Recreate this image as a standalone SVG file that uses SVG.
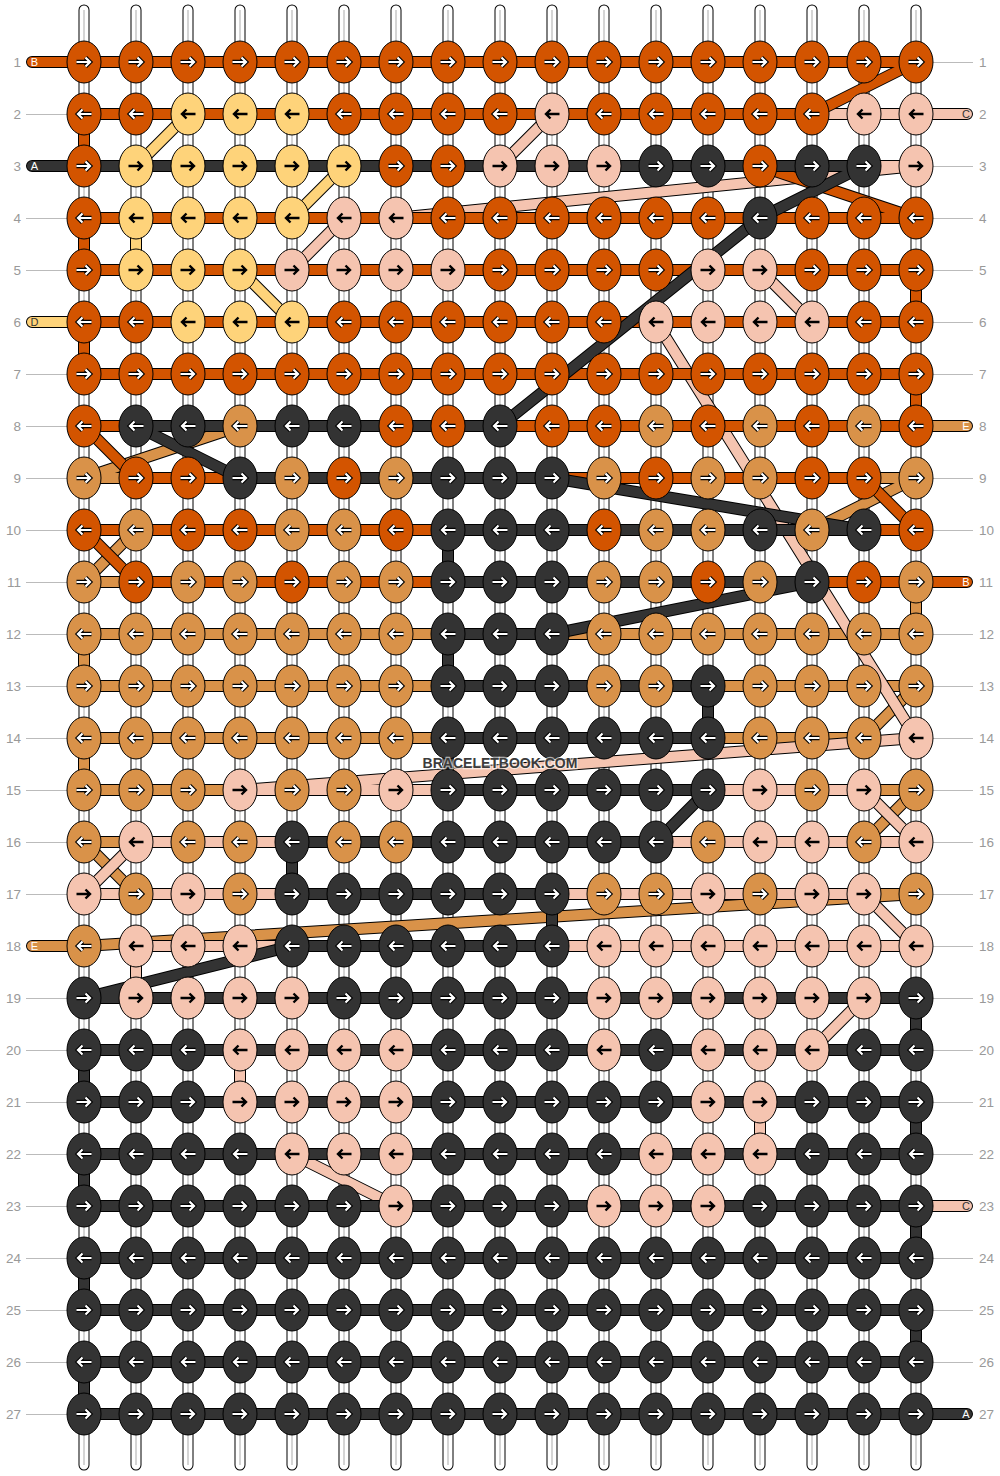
<svg xmlns="http://www.w3.org/2000/svg" width="1000" height="1476" viewBox="0 0 1000 1476">
<style>
.o{fill:#d35400}.k{fill:#333333}.p{fill:#f5c4b0}.y{fill:#fed37a}.t{fill:#d99249}
.sb{fill:none;stroke:#000;stroke-width:11;stroke-linecap:round}
.sw{fill:none;stroke:#fff;stroke-width:9;stroke-linecap:round}
.sg{fill:none;stroke:#c8c8c8;stroke-width:1.5}
.ol{fill:none;stroke:#000;stroke-width:12;stroke-linecap:round;stroke-linejoin:round}
.ln{fill:none;stroke-width:10;stroke-linecap:round;stroke-linejoin:round}
.guide{fill:none;stroke:#bbb;stroke-width:1}
.num{font-family:"Liberation Sans",Arial,sans-serif;font-size:13.5px;fill:#999}
.lab{font-family:"Liberation Sans",Arial,sans-serif;font-size:11px;text-anchor:middle}
.wm{font-family:"Liberation Sans",Arial,sans-serif;font-size:14px;font-weight:bold;text-anchor:middle;fill:#3c3c3c;stroke:#fff;stroke-width:2.5;stroke-opacity:0.6;paint-order:stroke}
</style>
<defs>
<path id="ar" fill="none" d="M-7.5,0H5.5M1.5,-4.5L6,0L1.5,4.5"/>
<path id="al" fill="none" d="M7.5,0H-5.5M-1.5,-4.5L-6,0L-1.5,4.5"/>
<g id="wr"><use href="#ar" stroke="#000" stroke-width="4.4"/><use href="#ar" stroke="#fff" stroke-width="2.2"/></g>
<g id="wl"><use href="#al" stroke="#000" stroke-width="4.4"/><use href="#al" stroke="#fff" stroke-width="2.2"/></g>
<g id="br"><use href="#ar" stroke="#000" stroke-width="2.4"/></g>
<g id="bl"><use href="#al" stroke="#000" stroke-width="2.4"/></g>
<ellipse id="e" rx="17" ry="21" stroke="#000" stroke-width="1"/>
<g id="Or"><use href="#e" class="o"/><use href="#wr"/></g>
<g id="Ol"><use href="#e" class="o"/><use href="#wl"/></g>
<g id="Kr"><use href="#e" class="k"/><use href="#wr"/></g>
<g id="Kl"><use href="#e" class="k"/><use href="#wl"/></g>
<g id="Tr"><use href="#e" class="t"/><use href="#wr"/></g>
<g id="Tl"><use href="#e" class="t"/><use href="#wl"/></g>
<g id="Pr"><use href="#e" class="p"/><use href="#br"/></g>
<g id="Pl"><use href="#e" class="p"/><use href="#bl"/></g>
<g id="Yr"><use href="#e" class="y"/><use href="#br"/></g>
<g id="Yl"><use href="#e" class="y"/><use href="#bl"/></g>
<path id="cols" d="M84,10V1465M136,10V1465M188,10V1465M240,10V1465M292,10V1465M344,10V1465M396,10V1465M448,10V1465M500,10V1465M552,10V1465M604,10V1465M656,10V1465M708,10V1465M760,10V1465M812,10V1465M864,10V1465M916,10V1465"/>
<path id="pE" d="M967,426H240L84,478H916L812,530H136L84,582H916V634H84V686H916L864,738H84V790H916L864,842H84L136,894H916L84,946H32"/>
<path id="pD" d="M292,114H188L136,166H344L292,218H136V270H240L292,322H32"/>
<path id="pC" d="M967,114H552L500,166H916L396,218H344L292,270H760L812,322H656L916,738L240,790H864L916,842H136L84,894H864L916,946H136V998H864L812,1050H240V1102H760V1154H292L396,1206H967"/>
<path id="pB" d="M32,62H916L812,114H84V166H760L916,218H84V270H916V322H84V374H916V426H84L136,478H864L916,530H84L136,582H967"/>
<path id="pA" d="M32,166H864L760,218L500,426H136L240,478H552L864,530H448V582H812L552,634H448V686H708V738H448V790H708L656,842H292V894H552V946H292L84,998H916V1050H84V1102H916V1154H84V1206H916V1258H84V1310H916V1362H84V1414H967"/>
</defs>

<g id="strands">
<use href="#cols" class="sb"/>
<use href="#cols" class="sw"/>
<use href="#cols" class="sg"/>
</g>

<g id="guides">
<path class="guide" d="M26,114.5H67M26,218.5H67M26,270.5H67M26,374.5H67M26,426.5H67M26,478.5H67M26,530.5H67M26,582.5H67M26,634.5H67M26,686.5H67M26,738.5H67M26,790.5H67M26,842.5H67M26,894.5H67M26,998.5H67M26,1050.5H67M26,1102.5H67M26,1154.5H67M26,1206.5H67M26,1258.5H67M26,1310.5H67M26,1362.5H67M26,1414.5H67"/>
<path class="guide" d="M933,62.5H973M933,166.5H973M933,218.5H973M933,270.5H973M933,322.5H973M933,374.5H973M933,478.5H973M933,530.5H973M933,634.5H973M933,686.5H973M933,738.5H973M933,790.5H973M933,842.5H973M933,894.5H973M933,946.5H973M933,998.5H973M933,1050.5H973M933,1102.5H973M933,1154.5H973M933,1258.5H973M933,1310.5H973M933,1362.5H973"/>
</g>

<g id="connectors">
<use href="#pE" class="ol"/><use href="#pE" class="ln" stroke="#d99249"/>
<use href="#pD" class="ol"/><use href="#pD" class="ln" stroke="#fed37a"/>
<use href="#pC" class="ol"/><use href="#pC" class="ln" stroke="#f5c4b0"/>
<use href="#pB" class="ol"/><use href="#pB" class="ln" stroke="#d35400"/>
<use href="#pA" class="ol"/><use href="#pA" class="ln" stroke="#333333"/>
</g>

<g id="row1" transform="translate(0,62)">
<g id="k1-1"><use href="#Or" x="84"/></g><g id="k1-2"><use href="#Or" x="136"/></g><g id="k1-3"><use href="#Or" x="188"/></g><g id="k1-4"><use href="#Or" x="240"/></g><g id="k1-5"><use href="#Or" x="292"/></g><g id="k1-6"><use href="#Or" x="344"/></g><g id="k1-7"><use href="#Or" x="396"/></g><g id="k1-8"><use href="#Or" x="448"/></g><g id="k1-9"><use href="#Or" x="500"/></g><g id="k1-10"><use href="#Or" x="552"/></g><g id="k1-11"><use href="#Or" x="604"/></g><g id="k1-12"><use href="#Or" x="656"/></g><g id="k1-13"><use href="#Or" x="708"/></g><g id="k1-14"><use href="#Or" x="760"/></g><g id="k1-15"><use href="#Or" x="812"/></g><g id="k1-16"><use href="#Or" x="864"/></g><g id="k1-17"><use href="#Or" x="916"/></g>
</g>
<g id="row2" transform="translate(0,114)">
<g id="k2-1"><use href="#Ol" x="84"/></g><g id="k2-2"><use href="#Ol" x="136"/></g><g id="k2-3"><use href="#Yl" x="188"/></g><g id="k2-4"><use href="#Yl" x="240"/></g><g id="k2-5"><use href="#Yl" x="292"/></g><g id="k2-6"><use href="#Ol" x="344"/></g><g id="k2-7"><use href="#Ol" x="396"/></g><g id="k2-8"><use href="#Ol" x="448"/></g><g id="k2-9"><use href="#Ol" x="500"/></g><g id="k2-10"><use href="#Pl" x="552"/></g><g id="k2-11"><use href="#Ol" x="604"/></g><g id="k2-12"><use href="#Ol" x="656"/></g><g id="k2-13"><use href="#Ol" x="708"/></g><g id="k2-14"><use href="#Ol" x="760"/></g><g id="k2-15"><use href="#Ol" x="812"/></g><g id="k2-16"><use href="#Pl" x="864"/></g><g id="k2-17"><use href="#Pl" x="916"/></g>
</g>
<g id="row3" transform="translate(0,166)">
<g id="k3-1"><use href="#Or" x="84"/></g><g id="k3-2"><use href="#Yr" x="136"/></g><g id="k3-3"><use href="#Yr" x="188"/></g><g id="k3-4"><use href="#Yr" x="240"/></g><g id="k3-5"><use href="#Yr" x="292"/></g><g id="k3-6"><use href="#Yr" x="344"/></g><g id="k3-7"><use href="#Or" x="396"/></g><g id="k3-8"><use href="#Or" x="448"/></g><g id="k3-9"><use href="#Pr" x="500"/></g><g id="k3-10"><use href="#Pr" x="552"/></g><g id="k3-11"><use href="#Pr" x="604"/></g><g id="k3-12"><use href="#Kr" x="656"/></g><g id="k3-13"><use href="#Kr" x="708"/></g><g id="k3-14"><use href="#Or" x="760"/></g><g id="k3-15"><use href="#Kr" x="812"/></g><g id="k3-16"><use href="#Kr" x="864"/></g><g id="k3-17"><use href="#Pr" x="916"/></g>
</g>
<g id="row4" transform="translate(0,218)">
<g id="k4-1"><use href="#Ol" x="84"/></g><g id="k4-2"><use href="#Yl" x="136"/></g><g id="k4-3"><use href="#Yl" x="188"/></g><g id="k4-4"><use href="#Yl" x="240"/></g><g id="k4-5"><use href="#Yl" x="292"/></g><g id="k4-6"><use href="#Pl" x="344"/></g><g id="k4-7"><use href="#Pl" x="396"/></g><g id="k4-8"><use href="#Ol" x="448"/></g><g id="k4-9"><use href="#Ol" x="500"/></g><g id="k4-10"><use href="#Ol" x="552"/></g><g id="k4-11"><use href="#Ol" x="604"/></g><g id="k4-12"><use href="#Ol" x="656"/></g><g id="k4-13"><use href="#Ol" x="708"/></g><g id="k4-14"><use href="#Kl" x="760"/></g><g id="k4-15"><use href="#Ol" x="812"/></g><g id="k4-16"><use href="#Ol" x="864"/></g><g id="k4-17"><use href="#Ol" x="916"/></g>
</g>
<g id="row5" transform="translate(0,270)">
<g id="k5-1"><use href="#Or" x="84"/></g><g id="k5-2"><use href="#Yr" x="136"/></g><g id="k5-3"><use href="#Yr" x="188"/></g><g id="k5-4"><use href="#Yr" x="240"/></g><g id="k5-5"><use href="#Pr" x="292"/></g><g id="k5-6"><use href="#Pr" x="344"/></g><g id="k5-7"><use href="#Pr" x="396"/></g><g id="k5-8"><use href="#Pr" x="448"/></g><g id="k5-9"><use href="#Or" x="500"/></g><g id="k5-10"><use href="#Or" x="552"/></g><g id="k5-11"><use href="#Or" x="604"/></g><g id="k5-12"><use href="#Or" x="656"/></g><g id="k5-13"><use href="#Pr" x="708"/></g><g id="k5-14"><use href="#Pr" x="760"/></g><g id="k5-15"><use href="#Or" x="812"/></g><g id="k5-16"><use href="#Or" x="864"/></g><g id="k5-17"><use href="#Or" x="916"/></g>
</g>
<g id="row6" transform="translate(0,322)">
<g id="k6-1"><use href="#Ol" x="84"/></g><g id="k6-2"><use href="#Ol" x="136"/></g><g id="k6-3"><use href="#Yl" x="188"/></g><g id="k6-4"><use href="#Yl" x="240"/></g><g id="k6-5"><use href="#Yl" x="292"/></g><g id="k6-6"><use href="#Ol" x="344"/></g><g id="k6-7"><use href="#Ol" x="396"/></g><g id="k6-8"><use href="#Ol" x="448"/></g><g id="k6-9"><use href="#Ol" x="500"/></g><g id="k6-10"><use href="#Ol" x="552"/></g><g id="k6-11"><use href="#Ol" x="604"/></g><g id="k6-12"><use href="#Pl" x="656"/></g><g id="k6-13"><use href="#Pl" x="708"/></g><g id="k6-14"><use href="#Pl" x="760"/></g><g id="k6-15"><use href="#Pl" x="812"/></g><g id="k6-16"><use href="#Ol" x="864"/></g><g id="k6-17"><use href="#Ol" x="916"/></g>
</g>
<g id="row7" transform="translate(0,374)">
<g id="k7-1"><use href="#Or" x="84"/></g><g id="k7-2"><use href="#Or" x="136"/></g><g id="k7-3"><use href="#Or" x="188"/></g><g id="k7-4"><use href="#Or" x="240"/></g><g id="k7-5"><use href="#Or" x="292"/></g><g id="k7-6"><use href="#Or" x="344"/></g><g id="k7-7"><use href="#Or" x="396"/></g><g id="k7-8"><use href="#Or" x="448"/></g><g id="k7-9"><use href="#Or" x="500"/></g><g id="k7-10"><use href="#Or" x="552"/></g><g id="k7-11"><use href="#Or" x="604"/></g><g id="k7-12"><use href="#Or" x="656"/></g><g id="k7-13"><use href="#Or" x="708"/></g><g id="k7-14"><use href="#Or" x="760"/></g><g id="k7-15"><use href="#Or" x="812"/></g><g id="k7-16"><use href="#Or" x="864"/></g><g id="k7-17"><use href="#Or" x="916"/></g>
</g>
<g id="row8" transform="translate(0,426)">
<g id="k8-1"><use href="#Ol" x="84"/></g><g id="k8-2"><use href="#Kl" x="136"/></g><g id="k8-3"><use href="#Kl" x="188"/></g><g id="k8-4"><use href="#Tl" x="240"/></g><g id="k8-5"><use href="#Kl" x="292"/></g><g id="k8-6"><use href="#Kl" x="344"/></g><g id="k8-7"><use href="#Ol" x="396"/></g><g id="k8-8"><use href="#Ol" x="448"/></g><g id="k8-9"><use href="#Kl" x="500"/></g><g id="k8-10"><use href="#Ol" x="552"/></g><g id="k8-11"><use href="#Ol" x="604"/></g><g id="k8-12"><use href="#Tl" x="656"/></g><g id="k8-13"><use href="#Ol" x="708"/></g><g id="k8-14"><use href="#Tl" x="760"/></g><g id="k8-15"><use href="#Ol" x="812"/></g><g id="k8-16"><use href="#Tl" x="864"/></g><g id="k8-17"><use href="#Ol" x="916"/></g>
</g>
<g id="row9" transform="translate(0,478)">
<g id="k9-1"><use href="#Tr" x="84"/></g><g id="k9-2"><use href="#Or" x="136"/></g><g id="k9-3"><use href="#Or" x="188"/></g><g id="k9-4"><use href="#Kr" x="240"/></g><g id="k9-5"><use href="#Tr" x="292"/></g><g id="k9-6"><use href="#Or" x="344"/></g><g id="k9-7"><use href="#Tr" x="396"/></g><g id="k9-8"><use href="#Kr" x="448"/></g><g id="k9-9"><use href="#Kr" x="500"/></g><g id="k9-10"><use href="#Kr" x="552"/></g><g id="k9-11"><use href="#Tr" x="604"/></g><g id="k9-12"><use href="#Or" x="656"/></g><g id="k9-13"><use href="#Tr" x="708"/></g><g id="k9-14"><use href="#Tr" x="760"/></g><g id="k9-15"><use href="#Or" x="812"/></g><g id="k9-16"><use href="#Or" x="864"/></g><g id="k9-17"><use href="#Tr" x="916"/></g>
</g>
<g id="row10" transform="translate(0,530)">
<g id="k10-1"><use href="#Ol" x="84"/></g><g id="k10-2"><use href="#Tl" x="136"/></g><g id="k10-3"><use href="#Ol" x="188"/></g><g id="k10-4"><use href="#Ol" x="240"/></g><g id="k10-5"><use href="#Tl" x="292"/></g><g id="k10-6"><use href="#Tl" x="344"/></g><g id="k10-7"><use href="#Ol" x="396"/></g><g id="k10-8"><use href="#Kl" x="448"/></g><g id="k10-9"><use href="#Kl" x="500"/></g><g id="k10-10"><use href="#Kl" x="552"/></g><g id="k10-11"><use href="#Ol" x="604"/></g><g id="k10-12"><use href="#Tl" x="656"/></g><g id="k10-13"><use href="#Tl" x="708"/></g><g id="k10-14"><use href="#Kl" x="760"/></g><g id="k10-15"><use href="#Tl" x="812"/></g><g id="k10-16"><use href="#Kl" x="864"/></g><g id="k10-17"><use href="#Ol" x="916"/></g>
</g>
<g id="row11" transform="translate(0,582)">
<g id="k11-1"><use href="#Tr" x="84"/></g><g id="k11-2"><use href="#Or" x="136"/></g><g id="k11-3"><use href="#Tr" x="188"/></g><g id="k11-4"><use href="#Tr" x="240"/></g><g id="k11-5"><use href="#Or" x="292"/></g><g id="k11-6"><use href="#Tr" x="344"/></g><g id="k11-7"><use href="#Tr" x="396"/></g><g id="k11-8"><use href="#Kr" x="448"/></g><g id="k11-9"><use href="#Kr" x="500"/></g><g id="k11-10"><use href="#Kr" x="552"/></g><g id="k11-11"><use href="#Tr" x="604"/></g><g id="k11-12"><use href="#Tr" x="656"/></g><g id="k11-13"><use href="#Or" x="708"/></g><g id="k11-14"><use href="#Tr" x="760"/></g><g id="k11-15"><use href="#Kr" x="812"/></g><g id="k11-16"><use href="#Or" x="864"/></g><g id="k11-17"><use href="#Tr" x="916"/></g>
</g>
<g id="row12" transform="translate(0,634)">
<g id="k12-1"><use href="#Tl" x="84"/></g><g id="k12-2"><use href="#Tl" x="136"/></g><g id="k12-3"><use href="#Tl" x="188"/></g><g id="k12-4"><use href="#Tl" x="240"/></g><g id="k12-5"><use href="#Tl" x="292"/></g><g id="k12-6"><use href="#Tl" x="344"/></g><g id="k12-7"><use href="#Tl" x="396"/></g><g id="k12-8"><use href="#Kl" x="448"/></g><g id="k12-9"><use href="#Kl" x="500"/></g><g id="k12-10"><use href="#Kl" x="552"/></g><g id="k12-11"><use href="#Tl" x="604"/></g><g id="k12-12"><use href="#Tl" x="656"/></g><g id="k12-13"><use href="#Tl" x="708"/></g><g id="k12-14"><use href="#Tl" x="760"/></g><g id="k12-15"><use href="#Tl" x="812"/></g><g id="k12-16"><use href="#Tl" x="864"/></g><g id="k12-17"><use href="#Tl" x="916"/></g>
</g>
<g id="row13" transform="translate(0,686)">
<g id="k13-1"><use href="#Tr" x="84"/></g><g id="k13-2"><use href="#Tr" x="136"/></g><g id="k13-3"><use href="#Tr" x="188"/></g><g id="k13-4"><use href="#Tr" x="240"/></g><g id="k13-5"><use href="#Tr" x="292"/></g><g id="k13-6"><use href="#Tr" x="344"/></g><g id="k13-7"><use href="#Tr" x="396"/></g><g id="k13-8"><use href="#Kr" x="448"/></g><g id="k13-9"><use href="#Kr" x="500"/></g><g id="k13-10"><use href="#Kr" x="552"/></g><g id="k13-11"><use href="#Tr" x="604"/></g><g id="k13-12"><use href="#Tr" x="656"/></g><g id="k13-13"><use href="#Kr" x="708"/></g><g id="k13-14"><use href="#Tr" x="760"/></g><g id="k13-15"><use href="#Tr" x="812"/></g><g id="k13-16"><use href="#Tr" x="864"/></g><g id="k13-17"><use href="#Tr" x="916"/></g>
</g>
<g id="row14" transform="translate(0,738)">
<g id="k14-1"><use href="#Tl" x="84"/></g><g id="k14-2"><use href="#Tl" x="136"/></g><g id="k14-3"><use href="#Tl" x="188"/></g><g id="k14-4"><use href="#Tl" x="240"/></g><g id="k14-5"><use href="#Tl" x="292"/></g><g id="k14-6"><use href="#Tl" x="344"/></g><g id="k14-7"><use href="#Tl" x="396"/></g><g id="k14-8"><use href="#Kl" x="448"/></g><g id="k14-9"><use href="#Kl" x="500"/></g><g id="k14-10"><use href="#Kl" x="552"/></g><g id="k14-11"><use href="#Kl" x="604"/></g><g id="k14-12"><use href="#Kl" x="656"/></g><g id="k14-13"><use href="#Kl" x="708"/></g><g id="k14-14"><use href="#Tl" x="760"/></g><g id="k14-15"><use href="#Tl" x="812"/></g><g id="k14-16"><use href="#Tl" x="864"/></g><g id="k14-17"><use href="#Pl" x="916"/></g>
</g>
<g id="row15" transform="translate(0,790)">
<g id="k15-1"><use href="#Tr" x="84"/></g><g id="k15-2"><use href="#Tr" x="136"/></g><g id="k15-3"><use href="#Tr" x="188"/></g><g id="k15-4"><use href="#Pr" x="240"/></g><g id="k15-5"><use href="#Tr" x="292"/></g><g id="k15-6"><use href="#Tr" x="344"/></g><g id="k15-7"><use href="#Pr" x="396"/></g><g id="k15-8"><use href="#Kr" x="448"/></g><g id="k15-9"><use href="#Kr" x="500"/></g><g id="k15-10"><use href="#Kr" x="552"/></g><g id="k15-11"><use href="#Kr" x="604"/></g><g id="k15-12"><use href="#Kr" x="656"/></g><g id="k15-13"><use href="#Kr" x="708"/></g><g id="k15-14"><use href="#Pr" x="760"/></g><g id="k15-15"><use href="#Tr" x="812"/></g><g id="k15-16"><use href="#Pr" x="864"/></g><g id="k15-17"><use href="#Tr" x="916"/></g>
</g>
<g id="row16" transform="translate(0,842)">
<g id="k16-1"><use href="#Tl" x="84"/></g><g id="k16-2"><use href="#Pl" x="136"/></g><g id="k16-3"><use href="#Tl" x="188"/></g><g id="k16-4"><use href="#Tl" x="240"/></g><g id="k16-5"><use href="#Kl" x="292"/></g><g id="k16-6"><use href="#Tl" x="344"/></g><g id="k16-7"><use href="#Tl" x="396"/></g><g id="k16-8"><use href="#Kl" x="448"/></g><g id="k16-9"><use href="#Kl" x="500"/></g><g id="k16-10"><use href="#Kl" x="552"/></g><g id="k16-11"><use href="#Kl" x="604"/></g><g id="k16-12"><use href="#Kl" x="656"/></g><g id="k16-13"><use href="#Tl" x="708"/></g><g id="k16-14"><use href="#Pl" x="760"/></g><g id="k16-15"><use href="#Pl" x="812"/></g><g id="k16-16"><use href="#Tl" x="864"/></g><g id="k16-17"><use href="#Pl" x="916"/></g>
</g>
<g id="row17" transform="translate(0,894)">
<g id="k17-1"><use href="#Pr" x="84"/></g><g id="k17-2"><use href="#Tr" x="136"/></g><g id="k17-3"><use href="#Pr" x="188"/></g><g id="k17-4"><use href="#Tr" x="240"/></g><g id="k17-5"><use href="#Kr" x="292"/></g><g id="k17-6"><use href="#Kr" x="344"/></g><g id="k17-7"><use href="#Kr" x="396"/></g><g id="k17-8"><use href="#Kr" x="448"/></g><g id="k17-9"><use href="#Kr" x="500"/></g><g id="k17-10"><use href="#Kr" x="552"/></g><g id="k17-11"><use href="#Tr" x="604"/></g><g id="k17-12"><use href="#Tr" x="656"/></g><g id="k17-13"><use href="#Pr" x="708"/></g><g id="k17-14"><use href="#Tr" x="760"/></g><g id="k17-15"><use href="#Pr" x="812"/></g><g id="k17-16"><use href="#Pr" x="864"/></g><g id="k17-17"><use href="#Tr" x="916"/></g>
</g>
<g id="row18" transform="translate(0,946)">
<g id="k18-1"><use href="#Tl" x="84"/></g><g id="k18-2"><use href="#Pl" x="136"/></g><g id="k18-3"><use href="#Pl" x="188"/></g><g id="k18-4"><use href="#Pl" x="240"/></g><g id="k18-5"><use href="#Kl" x="292"/></g><g id="k18-6"><use href="#Kl" x="344"/></g><g id="k18-7"><use href="#Kl" x="396"/></g><g id="k18-8"><use href="#Kl" x="448"/></g><g id="k18-9"><use href="#Kl" x="500"/></g><g id="k18-10"><use href="#Kl" x="552"/></g><g id="k18-11"><use href="#Pl" x="604"/></g><g id="k18-12"><use href="#Pl" x="656"/></g><g id="k18-13"><use href="#Pl" x="708"/></g><g id="k18-14"><use href="#Pl" x="760"/></g><g id="k18-15"><use href="#Pl" x="812"/></g><g id="k18-16"><use href="#Pl" x="864"/></g><g id="k18-17"><use href="#Pl" x="916"/></g>
</g>
<g id="row19" transform="translate(0,998)">
<g id="k19-1"><use href="#Kr" x="84"/></g><g id="k19-2"><use href="#Pr" x="136"/></g><g id="k19-3"><use href="#Pr" x="188"/></g><g id="k19-4"><use href="#Pr" x="240"/></g><g id="k19-5"><use href="#Pr" x="292"/></g><g id="k19-6"><use href="#Kr" x="344"/></g><g id="k19-7"><use href="#Kr" x="396"/></g><g id="k19-8"><use href="#Kr" x="448"/></g><g id="k19-9"><use href="#Kr" x="500"/></g><g id="k19-10"><use href="#Kr" x="552"/></g><g id="k19-11"><use href="#Pr" x="604"/></g><g id="k19-12"><use href="#Pr" x="656"/></g><g id="k19-13"><use href="#Pr" x="708"/></g><g id="k19-14"><use href="#Pr" x="760"/></g><g id="k19-15"><use href="#Pr" x="812"/></g><g id="k19-16"><use href="#Pr" x="864"/></g><g id="k19-17"><use href="#Kr" x="916"/></g>
</g>
<g id="row20" transform="translate(0,1050)">
<g id="k20-1"><use href="#Kl" x="84"/></g><g id="k20-2"><use href="#Kl" x="136"/></g><g id="k20-3"><use href="#Kl" x="188"/></g><g id="k20-4"><use href="#Pl" x="240"/></g><g id="k20-5"><use href="#Pl" x="292"/></g><g id="k20-6"><use href="#Pl" x="344"/></g><g id="k20-7"><use href="#Pl" x="396"/></g><g id="k20-8"><use href="#Kl" x="448"/></g><g id="k20-9"><use href="#Kl" x="500"/></g><g id="k20-10"><use href="#Kl" x="552"/></g><g id="k20-11"><use href="#Pl" x="604"/></g><g id="k20-12"><use href="#Kl" x="656"/></g><g id="k20-13"><use href="#Pl" x="708"/></g><g id="k20-14"><use href="#Pl" x="760"/></g><g id="k20-15"><use href="#Pl" x="812"/></g><g id="k20-16"><use href="#Kl" x="864"/></g><g id="k20-17"><use href="#Kl" x="916"/></g>
</g>
<g id="row21" transform="translate(0,1102)">
<g id="k21-1"><use href="#Kr" x="84"/></g><g id="k21-2"><use href="#Kr" x="136"/></g><g id="k21-3"><use href="#Kr" x="188"/></g><g id="k21-4"><use href="#Pr" x="240"/></g><g id="k21-5"><use href="#Pr" x="292"/></g><g id="k21-6"><use href="#Pr" x="344"/></g><g id="k21-7"><use href="#Pr" x="396"/></g><g id="k21-8"><use href="#Kr" x="448"/></g><g id="k21-9"><use href="#Kr" x="500"/></g><g id="k21-10"><use href="#Kr" x="552"/></g><g id="k21-11"><use href="#Kr" x="604"/></g><g id="k21-12"><use href="#Kr" x="656"/></g><g id="k21-13"><use href="#Pr" x="708"/></g><g id="k21-14"><use href="#Pr" x="760"/></g><g id="k21-15"><use href="#Kr" x="812"/></g><g id="k21-16"><use href="#Kr" x="864"/></g><g id="k21-17"><use href="#Kr" x="916"/></g>
</g>
<g id="row22" transform="translate(0,1154)">
<g id="k22-1"><use href="#Kl" x="84"/></g><g id="k22-2"><use href="#Kl" x="136"/></g><g id="k22-3"><use href="#Kl" x="188"/></g><g id="k22-4"><use href="#Kl" x="240"/></g><g id="k22-5"><use href="#Pl" x="292"/></g><g id="k22-6"><use href="#Pl" x="344"/></g><g id="k22-7"><use href="#Pl" x="396"/></g><g id="k22-8"><use href="#Kl" x="448"/></g><g id="k22-9"><use href="#Kl" x="500"/></g><g id="k22-10"><use href="#Kl" x="552"/></g><g id="k22-11"><use href="#Kl" x="604"/></g><g id="k22-12"><use href="#Pl" x="656"/></g><g id="k22-13"><use href="#Pl" x="708"/></g><g id="k22-14"><use href="#Pl" x="760"/></g><g id="k22-15"><use href="#Kl" x="812"/></g><g id="k22-16"><use href="#Kl" x="864"/></g><g id="k22-17"><use href="#Kl" x="916"/></g>
</g>
<g id="row23" transform="translate(0,1206)">
<g id="k23-1"><use href="#Kr" x="84"/></g><g id="k23-2"><use href="#Kr" x="136"/></g><g id="k23-3"><use href="#Kr" x="188"/></g><g id="k23-4"><use href="#Kr" x="240"/></g><g id="k23-5"><use href="#Kr" x="292"/></g><g id="k23-6"><use href="#Kr" x="344"/></g><g id="k23-7"><use href="#Pr" x="396"/></g><g id="k23-8"><use href="#Kr" x="448"/></g><g id="k23-9"><use href="#Kr" x="500"/></g><g id="k23-10"><use href="#Kr" x="552"/></g><g id="k23-11"><use href="#Pr" x="604"/></g><g id="k23-12"><use href="#Pr" x="656"/></g><g id="k23-13"><use href="#Pr" x="708"/></g><g id="k23-14"><use href="#Kr" x="760"/></g><g id="k23-15"><use href="#Kr" x="812"/></g><g id="k23-16"><use href="#Kr" x="864"/></g><g id="k23-17"><use href="#Kr" x="916"/></g>
</g>
<g id="row24" transform="translate(0,1258)">
<g id="k24-1"><use href="#Kl" x="84"/></g><g id="k24-2"><use href="#Kl" x="136"/></g><g id="k24-3"><use href="#Kl" x="188"/></g><g id="k24-4"><use href="#Kl" x="240"/></g><g id="k24-5"><use href="#Kl" x="292"/></g><g id="k24-6"><use href="#Kl" x="344"/></g><g id="k24-7"><use href="#Kl" x="396"/></g><g id="k24-8"><use href="#Kl" x="448"/></g><g id="k24-9"><use href="#Kl" x="500"/></g><g id="k24-10"><use href="#Kl" x="552"/></g><g id="k24-11"><use href="#Kl" x="604"/></g><g id="k24-12"><use href="#Kl" x="656"/></g><g id="k24-13"><use href="#Kl" x="708"/></g><g id="k24-14"><use href="#Kl" x="760"/></g><g id="k24-15"><use href="#Kl" x="812"/></g><g id="k24-16"><use href="#Kl" x="864"/></g><g id="k24-17"><use href="#Kl" x="916"/></g>
</g>
<g id="row25" transform="translate(0,1310)">
<g id="k25-1"><use href="#Kr" x="84"/></g><g id="k25-2"><use href="#Kr" x="136"/></g><g id="k25-3"><use href="#Kr" x="188"/></g><g id="k25-4"><use href="#Kr" x="240"/></g><g id="k25-5"><use href="#Kr" x="292"/></g><g id="k25-6"><use href="#Kr" x="344"/></g><g id="k25-7"><use href="#Kr" x="396"/></g><g id="k25-8"><use href="#Kr" x="448"/></g><g id="k25-9"><use href="#Kr" x="500"/></g><g id="k25-10"><use href="#Kr" x="552"/></g><g id="k25-11"><use href="#Kr" x="604"/></g><g id="k25-12"><use href="#Kr" x="656"/></g><g id="k25-13"><use href="#Kr" x="708"/></g><g id="k25-14"><use href="#Kr" x="760"/></g><g id="k25-15"><use href="#Kr" x="812"/></g><g id="k25-16"><use href="#Kr" x="864"/></g><g id="k25-17"><use href="#Kr" x="916"/></g>
</g>
<g id="row26" transform="translate(0,1362)">
<g id="k26-1"><use href="#Kl" x="84"/></g><g id="k26-2"><use href="#Kl" x="136"/></g><g id="k26-3"><use href="#Kl" x="188"/></g><g id="k26-4"><use href="#Kl" x="240"/></g><g id="k26-5"><use href="#Kl" x="292"/></g><g id="k26-6"><use href="#Kl" x="344"/></g><g id="k26-7"><use href="#Kl" x="396"/></g><g id="k26-8"><use href="#Kl" x="448"/></g><g id="k26-9"><use href="#Kl" x="500"/></g><g id="k26-10"><use href="#Kl" x="552"/></g><g id="k26-11"><use href="#Kl" x="604"/></g><g id="k26-12"><use href="#Kl" x="656"/></g><g id="k26-13"><use href="#Kl" x="708"/></g><g id="k26-14"><use href="#Kl" x="760"/></g><g id="k26-15"><use href="#Kl" x="812"/></g><g id="k26-16"><use href="#Kl" x="864"/></g><g id="k26-17"><use href="#Kl" x="916"/></g>
</g>
<g id="row27" transform="translate(0,1414)">
<g id="k27-1"><use href="#Kr" x="84"/></g><g id="k27-2"><use href="#Kr" x="136"/></g><g id="k27-3"><use href="#Kr" x="188"/></g><g id="k27-4"><use href="#Kr" x="240"/></g><g id="k27-5"><use href="#Kr" x="292"/></g><g id="k27-6"><use href="#Kr" x="344"/></g><g id="k27-7"><use href="#Kr" x="396"/></g><g id="k27-8"><use href="#Kr" x="448"/></g><g id="k27-9"><use href="#Kr" x="500"/></g><g id="k27-10"><use href="#Kr" x="552"/></g><g id="k27-11"><use href="#Kr" x="604"/></g><g id="k27-12"><use href="#Kr" x="656"/></g><g id="k27-13"><use href="#Kr" x="708"/></g><g id="k27-14"><use href="#Kr" x="760"/></g><g id="k27-15"><use href="#Kr" x="812"/></g><g id="k27-16"><use href="#Kr" x="864"/></g><g id="k27-17"><use href="#Kr" x="916"/></g>
</g>

<g id="string-labels" class="lab">
<text x="34.5" y="66" fill="#fff">B</text>
<text x="34.5" y="170" fill="#fff">A</text>
<text x="34.5" y="326" fill="#333">D</text>
<text x="34.5" y="950" fill="#fff">E</text>
<text x="966" y="118" fill="#333">C</text>
<text x="966" y="430" fill="#fff">E</text>
<text x="966" y="586" fill="#fff">B</text>
<text x="966" y="1210" fill="#333">C</text>
<text x="966" y="1418" fill="#fff">A</text>
</g>

<g id="row-numbers-left" class="num" text-anchor="end">
<text x="21" y="67">1</text><text x="21" y="119">2</text><text x="21" y="171">3</text><text x="21" y="223">4</text><text x="21" y="275">5</text><text x="21" y="327">6</text><text x="21" y="379">7</text><text x="21" y="431">8</text><text x="21" y="483">9</text><text x="21" y="535">10</text><text x="21" y="587">11</text><text x="21" y="639">12</text><text x="21" y="691">13</text><text x="21" y="743">14</text><text x="21" y="795">15</text><text x="21" y="847">16</text><text x="21" y="899">17</text><text x="21" y="951">18</text><text x="21" y="1003">19</text><text x="21" y="1055">20</text><text x="21" y="1107">21</text><text x="21" y="1159">22</text><text x="21" y="1211">23</text><text x="21" y="1263">24</text><text x="21" y="1315">25</text><text x="21" y="1367">26</text><text x="21" y="1419">27</text>
</g>
<g id="row-numbers-right" class="num">
<text x="979" y="67">1</text><text x="979" y="119">2</text><text x="979" y="171">3</text><text x="979" y="223">4</text><text x="979" y="275">5</text><text x="979" y="327">6</text><text x="979" y="379">7</text><text x="979" y="431">8</text><text x="979" y="483">9</text><text x="979" y="535">10</text><text x="979" y="587">11</text><text x="979" y="639">12</text><text x="979" y="691">13</text><text x="979" y="743">14</text><text x="979" y="795">15</text><text x="979" y="847">16</text><text x="979" y="899">17</text><text x="979" y="951">18</text><text x="979" y="1003">19</text><text x="979" y="1055">20</text><text x="979" y="1107">21</text><text x="979" y="1159">22</text><text x="979" y="1211">23</text><text x="979" y="1263">24</text><text x="979" y="1315">25</text><text x="979" y="1367">26</text><text x="979" y="1419">27</text>
</g>

<g id="watermark">
<text class="wm" x="500" y="768">BRACELETBOOK.COM</text>
</g>
</svg>
